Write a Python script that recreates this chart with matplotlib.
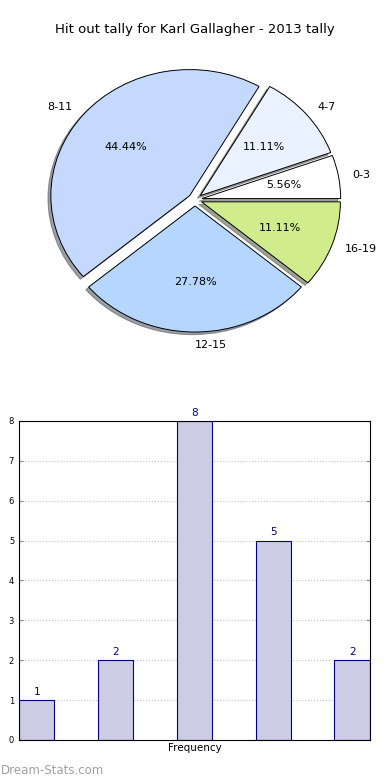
import matplotlib
matplotlib.use("Agg")
import matplotlib.pyplot as plt

# data
title = "Hit out tally for Karl Gallagher - 2013 tally"
labels = ["0-3", "4-7", "8-11", "12-15", "16-19"]
counts = [1, 2, 8, 5, 2]
pie_colors = ["#ffffff", "#ebf2ff", "#c5d9ff", "#b4d6ff", "#d0ec8c"]
yticks = [0, 1, 2, 3, 4, 5, 6, 7, 8]

fig = plt.figure(figsize=(3.9, 7.8), dpi=100)
fig.text(0.5, 1 - 30 / 780, title, ha="center", va="center", fontsize=9.5)

# pie
ax1 = fig.add_axes([0.055, 0.542, 0.89, 0.404])
wedges, texts, autotexts = ax1.pie(
    counts, labels=labels, colors=pie_colors, explode=[0.05] * len(counts),
    autopct="%.2f%%", shadow={"ox": -0.015, "oy": -0.015, "shade": 0.7},
    startangle=0,
    wedgeprops={"edgecolor": "black", "linewidth": 0.7},
    textprops={"fontsize": 8},
)
ax1.set_aspect("auto")
ax1.set_xlim(-1.25, 1.25)
ax1.set_ylim(-1.25, 1.25)
texts[3].set_horizontalalignment("left")

# bars
ax2 = fig.add_axes([0.0487, 0.0513, 0.9, 0.409])
xs = list(range(len(counts)))
ax2.bar(xs, counts, width=0.45, align="edge", color="#cccce4",
        edgecolor="#000080", linewidth=0.8, zorder=2)
for x, c in zip(xs, counts):
    ax2.text(x + 0.225, c + 0.08, str(c), ha="center", va="bottom",
             color="#000080", fontsize=7.5)
ax2.set_xlim(0, 4.45)
ax2.set_ylim(0, 8)
ax2.set_yticks(yticks)
ax2.set_xticks([])
ax2.tick_params(axis="y", direction="in", right=True, length=3, labelsize=6,
                color="#888888")
ax2.grid(axis="y", linestyle=":", color="#c4c4c4", linewidth=0.8, zorder=0)
ax2.set_xlabel("Frequency", fontsize=7.5, labelpad=2)

fig.text(0.003, 1 - 770 / 780, "Dream-Stats.com", ha="left", va="center",
         fontsize=8.5, color="#a0a0a0")

fig.savefig("out.png", dpi=100)
